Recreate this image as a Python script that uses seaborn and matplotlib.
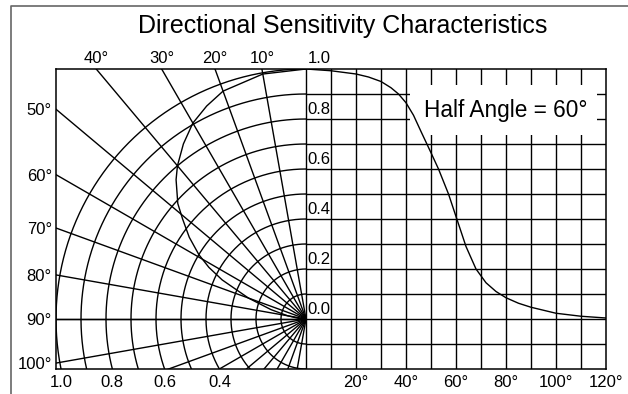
import numpy as np
import pandas as pd
import matplotlib
matplotlib.use('Agg')
import matplotlib.pyplot as plt
import seaborn as sns
from matplotlib.patches import Rectangle
from matplotlib.lines import Line2D

# right half: relative sensitivity vs angle (deg)
angle_deg = [0, 10, 20, 25, 30, 34, 37, 40, 43, 46, 50, 53, 57, 60, 64, 68, 72, 76, 80, 85, 90, 100, 110, 120]
rel_sens = [1.0, 0.993, 0.98, 0.968, 0.95, 0.925, 0.9, 0.865, 0.815, 0.75, 0.665, 0.6, 0.5, 0.41, 0.29, 0.2,
            0.145, 0.11, 0.085, 0.063, 0.047, 0.023, 0.011, 0.004]

# left half: same pattern as a polar trace (angle from axis, radius)
polar_deg = [0, 10, 20, 25, 30, 35, 40, 43, 48, 51, 55, 59, 62, 65, 70, 75, 80, 85, 90]
polar_r = [1.0, 0.995, 0.97, 0.94, 0.905, 0.855, 0.80, 0.762, 0.69, 0.635, 0.57, 0.50, 0.44, 0.37, 0.245, 0.145, 0.075, 0.03, 0.0]

ring_r = [0.1, 0.2, 0.3, 0.4, 0.5, 0.6, 0.7, 0.8, 0.9, 1.0]
spoke_deg = [10, 20, 30, 40, 50, 60, 70, 80, 90, 100, 110, 120, 130, 140, 150, 160, 170]
top_deg = [40, 30, 20, 10]
side_deg = [50, 60, 70, 80, 90, 100]
bottom_r = [1.0, 0.8, 0.6, 0.4]
bottom_deg = [20, 40, 60, 80, 100, 120]
inner_vals = [0.0, 0.2, 0.4, 0.6, 0.8]

sns.set_style('white')
plt.rcParams['font.family'] = ['Liberation Sans', 'DejaVu Sans']
plt.rcParams['text.color'] = 'black'
plt.rcParams['xtick.color'] = 'black'
plt.rcParams['ytick.color'] = 'black'

fig = plt.figure(figsize=(6.28, 3.94), dpi=100)
ax = fig.add_axes([56 / 628, 25 / 394, 550 / 628, 300 / 394])
ax.set_xlim(-1.0, 1.2)
ax.set_ylim(-0.2, 1.0)

lw = 1.0
# right grid
for g in np.arange(1, 12) / 10:
    ax.plot([g, g], [-0.2, 1.0], color='black', lw=lw, zorder=1)
for g in np.arange(-1, 10) / 10:
    ax.plot([0, 1.2], [g, g], color='black', lw=lw, zorder=1)
ax.plot([0, 0], [-0.2, 1.0], color='black', lw=lw, zorder=1)
ax.plot([-1.0, 0], [0, 0], color='black', lw=lw, zorder=1)

# polar grid on the left
t = np.linspace(0, np.pi, 300)
for r in ring_r:
    ax.plot(-r * np.sin(t), r * np.cos(t), color='black', lw=lw, zorder=1)
for d in spoke_deg:
    a = np.radians(d)
    ax.plot([0, -3 * np.sin(a)], [0, 3 * np.cos(a)], color='black', lw=lw, zorder=1)

# white label box
ax.add_patch(Rectangle((0.416, 0.737), 0.747, 0.2, facecolor='white', edgecolor='none', zorder=2))
ax.text(0.8, 0.832, 'Half Angle = 60°', fontsize=16.3, ha='center', va='center', zorder=4)

# curves
curve = pd.DataFrame({'x': np.array(angle_deg) / 100, 'y': rel_sens})
sns.lineplot(data=curve, x='x', y='y', color='black', lw=1.0, sort=False, estimator=None, ax=ax, zorder=3)
pa = np.radians(polar_deg)
trace = pd.DataFrame({'x': -np.array(polar_r) * np.sin(pa), 'y': np.array(polar_r) * np.cos(pa)})
sns.lineplot(data=trace, x='x', y='y', color='black', lw=1.0, sort=False, estimator=None, ax=ax, zorder=3)

for s in ax.spines.values():
    s.set_visible(True)
    s.set_color('black')
    s.set_linewidth(1.1)
    s.set_zorder(5)

# tick labels
xt = [-np.sqrt(r ** 2 - 0.04) for r in bottom_r] + [d / 100 for d in bottom_deg]
xl = [f'{r:.1f}' for r in bottom_r] + [f'{d}°' for d in bottom_deg]
ax.set_xticks(xt, xl)
yt = [1 / np.tan(np.radians(d)) for d in side_deg]
ax.set_yticks(yt, [f'{d}°' for d in side_deg])
ax.tick_params(axis='x', length=0, pad=4, labelsize=12, labelcolor='black')
ax.tick_params(axis='y', length=0, pad=3, labelsize=12, labelcolor='black')
ax.set_xlabel('')
ax.set_ylabel('')

top = ax.secondary_xaxis('top')
top.set_xticks([-np.tan(np.radians(d)) for d in top_deg], [f'{d}°' for d in top_deg])
top.tick_params(length=0, pad=2.5, labelsize=12, labelcolor='black')
for s in top.spines.values():
    s.set_visible(False)
ax.annotate('1.0', (0, 1.0), xytext=(1.5, 2.5), textcoords='offset points', fontsize=12,
            ha='left', va='bottom', annotation_clip=False, color='black')

for v in inner_vals:
    ax.annotate(f'{v:.1f}', (0, v), xytext=(1, 1.2), textcoords='offset points', fontsize=12,
                ha='left', va='bottom', zorder=4, color='black')

fig.text(343 / 628, 1 - 33 / 394, 'Directional Sensitivity Characteristics', fontsize=18,
         ha='center', va='baseline', color='black')

# outer frame (clipped by the image edge)
fig.add_artist(Line2D([11 / 628, 11 / 628, 1.0], [0.0, 1 - 6 / 394, 1 - 6 / 394],
                      transform=fig.transFigure, color='#666666', lw=1.2))

fig.savefig('out.png', dpi=100)
